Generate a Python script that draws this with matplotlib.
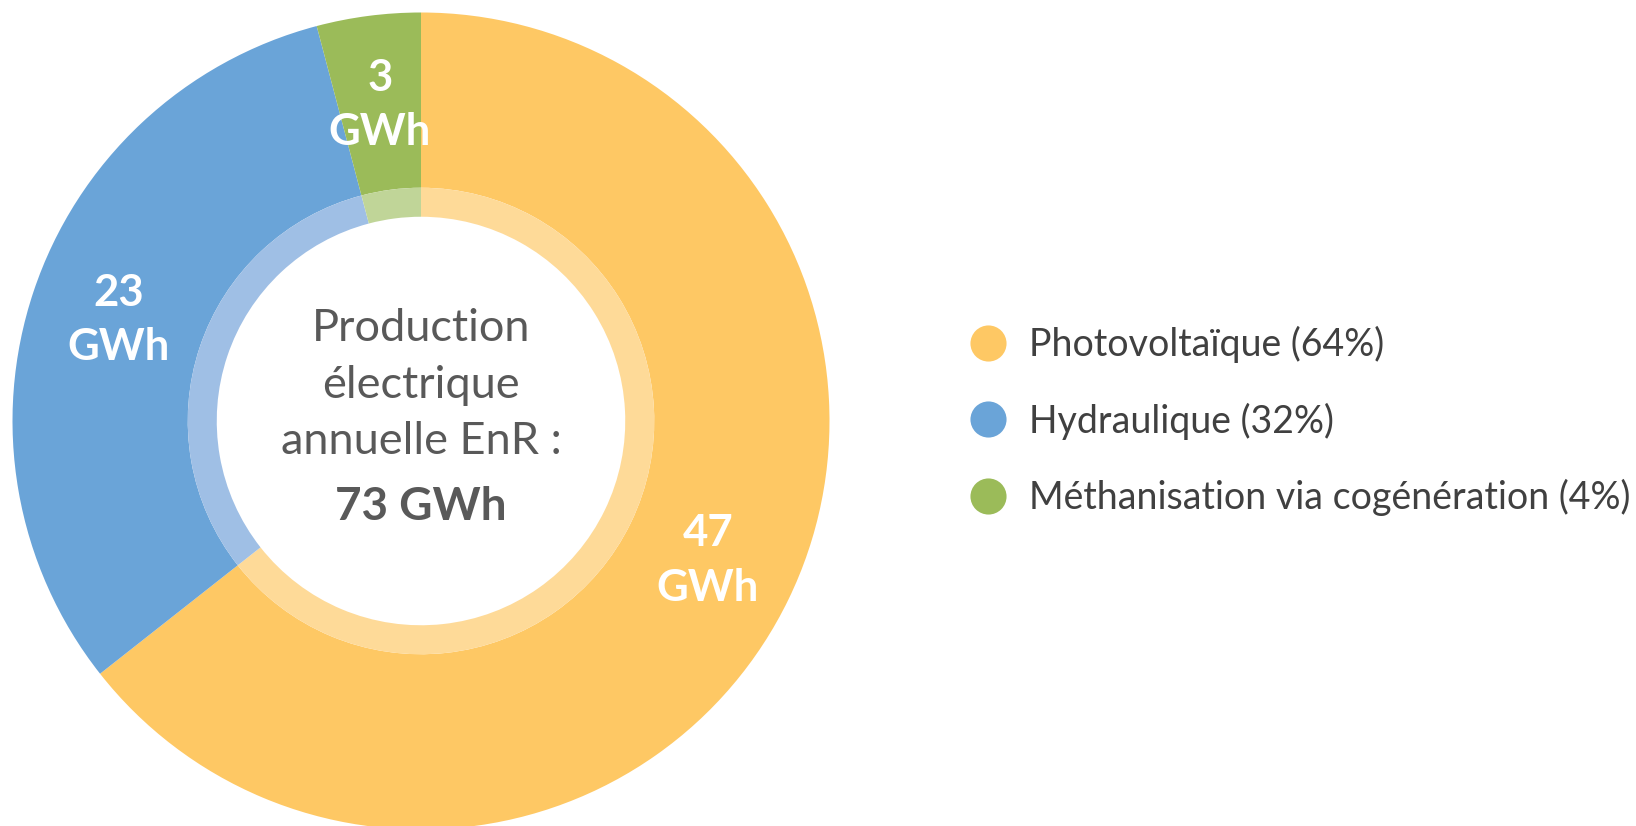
import matplotlib
matplotlib.use("Agg")
import matplotlib.pyplot as plt
from matplotlib.lines import Line2D
import numpy as np

categories = ["Photovoltaïque", "Hydraulique", "Méthanisation via cogénération"]
values_gwh = [47, 23, 3]
percent_labels = ["64%", "32%", "4%"]
total_gwh = 73

colors = ["#FEC864", "#6AA4D8", "#9BBB59"]
light_colors = ["#FEDA98", "#9FBFE5", "#C0D598"]

plt.rcParams['font.family'] = ['Lato', 'DejaVu Sans']

W, H = 1636, 826
fig = plt.figure(figsize=(W / 100, H / 100), dpi=100)

cx, cy, R = 421, 421, 408.5
ax = fig.add_axes([(cx - R) / W, (H - cy - R) / H, 2 * R / W, 2 * R / H])

r_inner_light = 0.571
r_white = 0.5

wedges, _ = ax.pie(values_gwh, colors=colors, startangle=90, counterclock=False,
                   radius=1.0, wedgeprops=dict(width=1.0 - r_inner_light, linewidth=0))
ax.pie(values_gwh, colors=light_colors, startangle=90, counterclock=False,
       radius=r_inner_light, wedgeprops=dict(width=r_inner_light - r_white, linewidth=0))

for w, v in zip(wedges, values_gwh):
    mid = np.deg2rad((w.theta1 + w.theta2) / 2)
    d = 0.78
    ax.text(d * np.cos(mid), d * np.sin(mid), f"{v}\nGWh", ha="center", va="center",
            color="white", fontsize=31.5, fontweight="bold", linespacing=1.45)

ax.text(0, 0.088, "Production\nélectrique\nannuelle EnR :", ha="center", va="center",
        color="#595959", fontsize=32.5, fontweight="normal", linespacing=1.46)
ax.text(0, -0.21, f"{total_gwh} GWh", ha="center", va="center",
        color="#595959", fontsize=33, fontweight="bold")

ax.set_xlim(-1, 1)
ax.set_ylim(-1, 1)
ax.set_aspect("equal")
ax.axis("off")

handles = [Line2D([0], [0], marker="o", linestyle="none", markersize=26,
                  markerfacecolor=c, markeredgewidth=0) for c in colors]
labels = [f"{c} ({p})" for c, p in zip(categories, percent_labels)]
fig.legend(handles, labels, loc="center left", bbox_to_anchor=(965.5 / W, 1 - 421 / H),
           frameon=False, fontsize=27, labelcolor="#404040", handletextpad=0.5,
           labelspacing=1.05, handlelength=1.2, borderpad=0, borderaxespad=0)

fig.savefig("out.png", dpi=100)
